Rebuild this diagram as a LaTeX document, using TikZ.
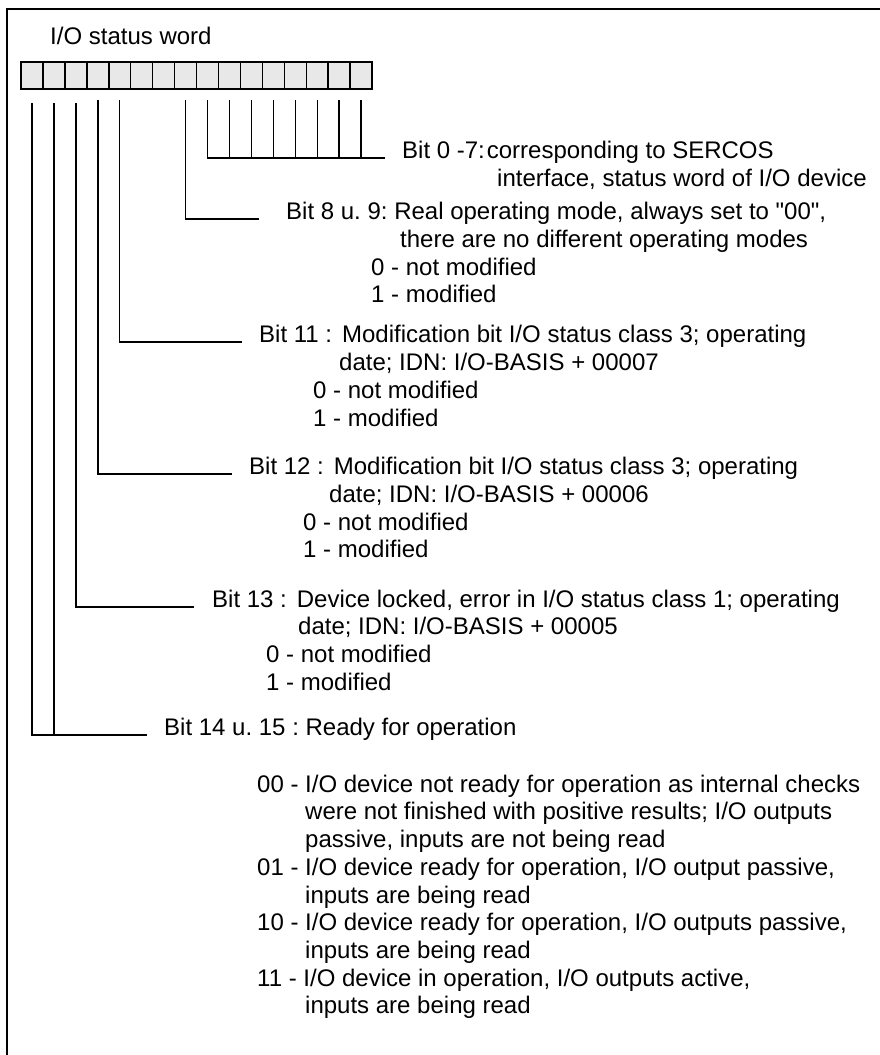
\documentclass[tikz,border=0pt]{standalone}
\usepackage{fontspec}
\newfontfamily\labelfont{Liberation Sans}
\usetikzlibrary{positioning}

\tikzset{
  bitcell/.style={draw, fill=gray!18, line width=1.5pt, minimum width=21.94pt,
    minimum height=27pt, inner sep=0pt, outer sep=0pt},
  wire/.style={line width=1.4pt},
  txt/.style={anchor=base west, inner sep=0pt, font=\labelfont\fontsize{24}{28}\selectfont\frenchspacing},
}

\begin{document}
\begin{tikzpicture}[x=1pt, y=-1pt]
  \useasboundingbox (0,0) rectangle (880,1055);
  % Rahmen (nur oben und links)
  \draw[line width=2pt] (7,1055) -- (7,9) -- (880,9);
  \node[txt] (title) at (50,44) {I/O status word};

  % Statuswort, Bit 15 links
  \foreach \i in {0,...,15}
    \node[bitcell] (c\i) at ({361.1-21.94*\i},75.5) {};

  % Bit 0 - 7
  \node[txt] (b0) at (402,158) {Bit 0 -7:\hspace{2pt}corresponding to SERCOS};
  \node[txt] (b0a) at (497,186) {interface, status word of I/O device};
  \draw[wire] ([yshift=-11pt]c7.south) |- ([xshift=-17pt]b0.base west);
  \foreach \i in {0,...,6}
    \draw[wire] ([yshift=-11pt]c\i.south) -- (c\i.south |- b0.base);

  % Bit 8 u. 9
  \node[txt] (b8) at (286,219) {Bit 8 u. 9: Real operating mode, always set to "00",};
  \node[txt] (b8a) at (400,247) {there are no different operating modes};
  \node[txt] (b8b) at (371,275) {0 - not modified};
  \node[txt] (b8c) at (371,302) {1 - modified};
  \draw[wire] ([yshift=-11pt]c8.south) |- ([xshift=-27pt]b8.base west);

  % Bit 11
  \node[txt] (b11) at (259,342) {Bit 11 :\hspace{10pt}Modification bit I/O status class 3; operating};
  \node[txt] (b11a) at (339,370) {date; IDN: I/O-BASIS + 00007};
  \node[txt] (b11b) at (313,398) {0 - not modified};
  \node[txt] (b11c) at (313,426) {1 - modified};
  \draw[wire] ([yshift=-11pt]c11.south) |- ([xshift=-17pt]b11.base west);

  % Bit 12
  \node[txt] (b12) at (249,474) {Bit 12 :\hspace{10pt}Modification bit I/O status class 3; operating};
  \node[txt] (b12a) at (329,502) {date; IDN: I/O-BASIS + 00006};
  \node[txt] (b12b) at (303,530) {0 - not modified};
  \node[txt] (b12c) at (303,557) {1 - modified};
  \draw[wire] ([yshift=-11pt]c12.south) |- ([xshift=-17pt]b12.base west);

  % Bit 13
  \node[txt] (b13) at (212,607) {Bit 13 :\hspace{10pt}Device locked, error in I/O status class 1; operating};
  \node[txt] (b13a) at (298,634) {date; IDN: I/O-BASIS + 00005};
  \node[txt] (b13b) at (266,662) {0 - not modified};
  \node[txt] (b13c) at (266,690) {1 - modified};
  \draw[wire] ([yshift=-14pt]c13.south) |- ([xshift=-18pt]b13.base west);

  % Bit 14 u. 15
  \node[txt] (b14) at (164,735) {Bit 14 u. 15 : Ready for operation};
  \draw[wire] ([yshift=-14pt]c15.south) |- ([xshift=-17pt]b14.base west);
  \draw[wire] ([yshift=-14pt]c14.south) -- (c14.south |- b14.base);

  \node[txt] (s00) at (257,792) {00 - I/O device not ready for operation as internal checks};
  \node[txt] (s00a) at (305,819) {were not finished with positive results; I/O outputs};
  \node[txt] (s00b) at (305,847) {passive, inputs are not being read};
  \node[txt] (s01) at (257,875) {01 - I/O device ready for operation, I/O output passive,};
  \node[txt] (s01a) at (305,903) {inputs are being read};
  \node[txt] (s10) at (257,930) {10 - I/O device ready for operation, I/O outputs passive,};
  \node[txt] (s10a) at (305,958) {inputs are being read};
  \node[txt] (s11) at (257,986) {11 - I/O device in operation, I/O outputs active,};
  \node[txt] (s11a) at (305,1013) {inputs are being read};
\end{tikzpicture}
\end{document}
